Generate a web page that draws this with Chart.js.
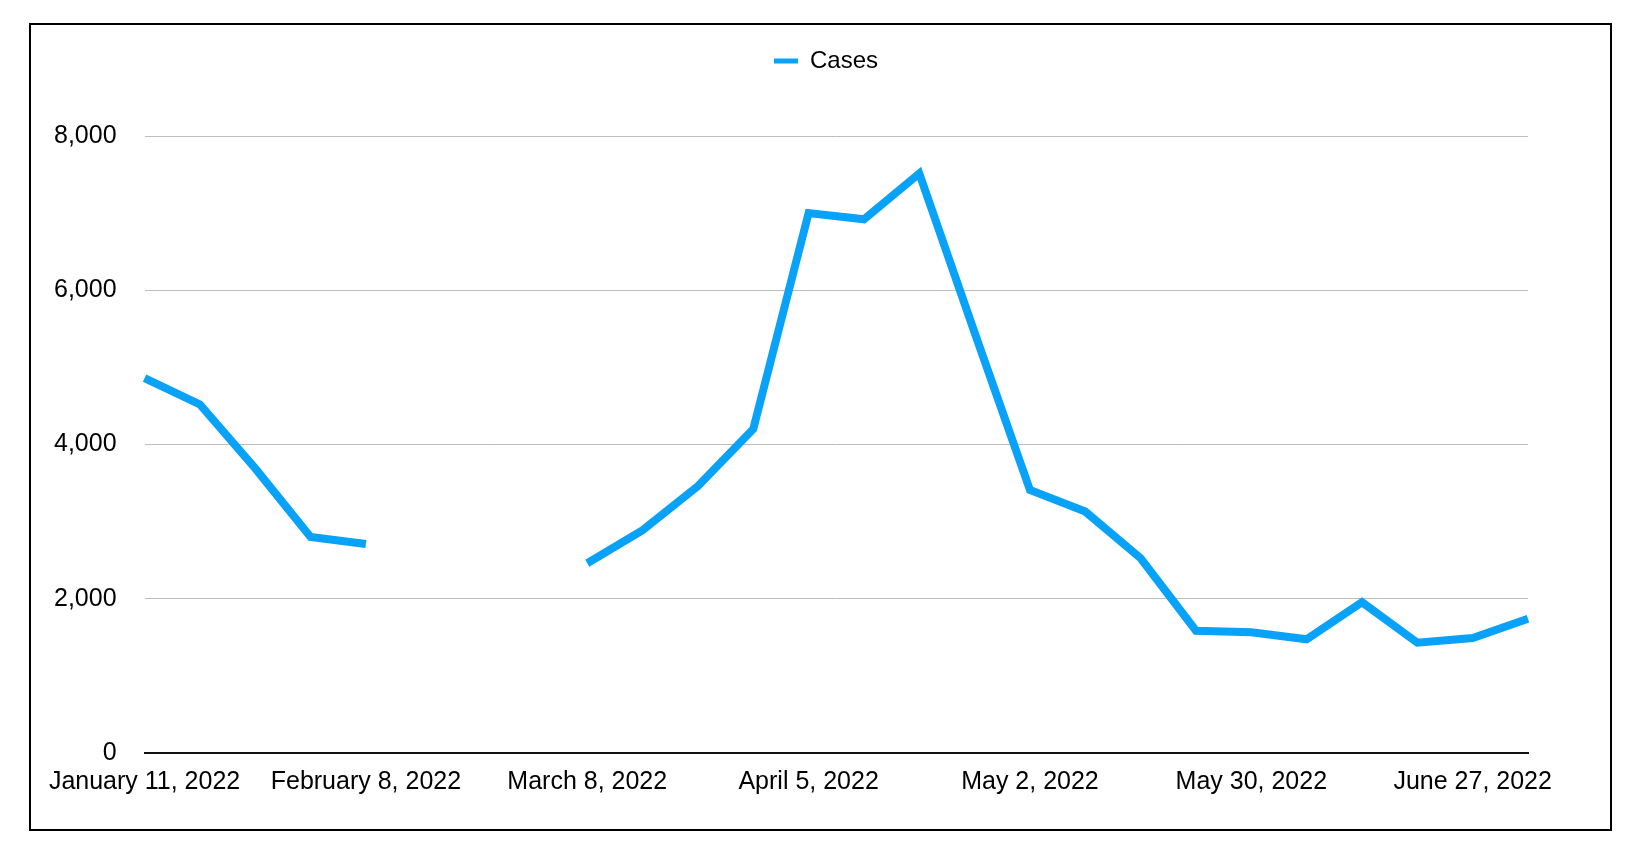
<!DOCTYPE html>
<html>
<head>
<meta charset="utf-8">
<script src="https://cdn.jsdelivr.net/npm/chart.js@4/dist/chart.umd.min.js"></script>
<style>
    html, body { margin: 0; padding: 0; background: #fff; }
    #wrap { position: relative; width: 1644px; height: 846px; }
    #myChart { position: absolute; left: 0; top: 0; }
    #frame {
        position: absolute; left: 29px; top: 23px; width: 1583px; height: 808px;
        box-sizing: border-box; border: 2px solid #000; pointer-events: none;
    }
</style>
</head>
<body>
<div id="wrap">
    <canvas id="myChart" width="1644" height="846"></canvas>
    <div id="frame"></div>
</div>
<script>
var weeks = [
    "January 11, 2022", "January 18, 2022", "January 25, 2022", "February 1, 2022",
    "February 8, 2022", "February 15, 2022", "February 22, 2022", "March 1, 2022",
    "March 8, 2022", "March 15, 2022", "March 22, 2022", "March 29, 2022",
    "April 5, 2022", "April 12, 2022", "April 19, 2022", "April 26, 2022",
    "May 2, 2022", "May 9, 2022", "May 16, 2022", "May 23, 2022",
    "May 30, 2022", "June 6, 2022", "June 13, 2022", "June 20, 2022",
    "June 27, 2022", "July 4, 2022"
];
var cases = [
    4860, 4520, 3690, 2800, 2710, null, null, null,
    2460, 2890, 3460, 4200, 7000, 6920, 7515, 5450,
    3410, 3130, 2525, 1585, 1565, 1475, 1955, 1430,
    1490, 1740
];
var yTicks = [0, 2000, 4000, 6000, 8000];

var fontFamily = "'Liberation Sans', Arial, Helvetica, sans-serif";

// push the plot area down below the legend, and nudge the legend to the right
var legendSpace = {
    id: 'legendSpace',
    beforeInit: function (chart) {
        var fit = chart.legend.fit;
        chart.legend.fit = function () {
            fit.bind(chart.legend)();
            this.height = 97;
        };
    },
    afterLayout: function (chart) {
        chart.legend.left += 49;
        chart.legend.right += 49;
    }
};

var ctx = document.getElementById("myChart");
var myChart = new Chart(ctx, {
    type: 'line',
    plugins: [legendSpace],
    data: {
        labels: weeks,
        datasets: [{
            label: "Cases",
            data: cases,
            borderColor: '#08a2f8',
            backgroundColor: '#08a2f8',
            borderWidth: 8,
            borderCapStyle: 'butt',
            borderJoinStyle: 'miter',
            pointRadius: 0,
            tension: 0,
            spanGaps: false,
            fill: false
        }]
    },
    options: {
        responsive: false,
        animation: false,
        layout: {
            padding: {left: 26, right: 116, top: 39, bottom: 35}
        },
        plugins: {
            tooltip: {enabled: false},
            legend: {
                position: 'top',
                labels: {
                    color: '#000',
                    font: {family: fontFamily, size: 24},
                    boxWidth: 24,
                    boxHeight: 5,
                    padding: 10,
                    generateLabels: function (chart) {
                        var items = Chart.defaults.plugins.legend.labels.generateLabels(chart);
                        items.forEach(function (it) {
                            it.lineWidth = 0;
                            it.strokeStyle = 'transparent';
                        });
                        return items;
                    }
                }
            }
        },
        scales: {
            x: {
                grid: {display: false, drawTicks: false},
                border: {display: true, color: '#111', width: 2},
                ticks: {
                    autoSkip: false,
                    maxRotation: 0,
                    minRotation: 0,
                    padding: 14,
                    color: '#000',
                    font: {family: fontFamily, size: 25},
                    callback: function (value, index) {
                        return index % 4 === 0 ? weeks[index] : '';
                    }
                }
            },
            y: {
                min: 0,
                max: 8000,
                grid: {color: '#bdbdbd', lineWidth: 1, drawTicks: false},
                border: {display: false},
                afterBuildTicks: function (scale) {
                    scale.ticks = yTicks.map(function (v) { return {value: v}; });
                },
                ticks: {
                    padding: 28,
                    color: '#000',
                    font: {family: fontFamily, size: 25},
                    callback: function (value) {
                        return value.toLocaleString('en-US');
                    }
                }
            }
        }
    }
});
</script>
</body>
</html>
